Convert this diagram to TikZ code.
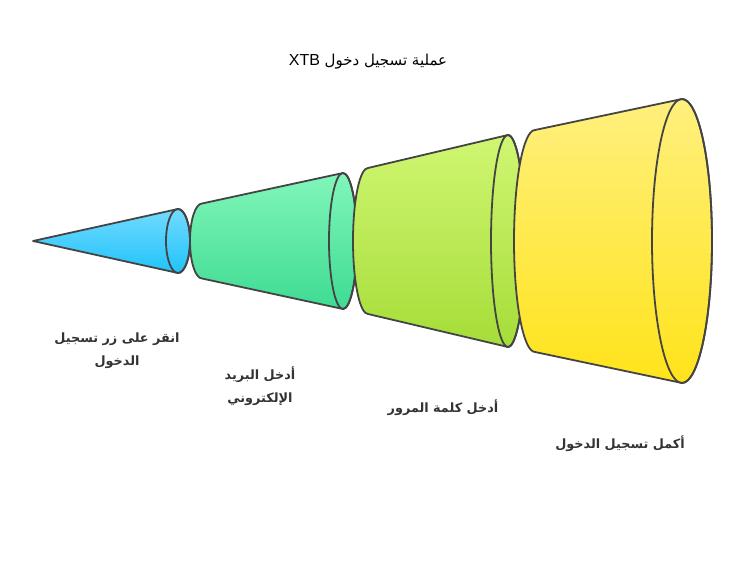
\documentclass[tikz,border=0pt]{standalone}
\usepackage{fontspec}
\setmainfont{Liberation Sans}
\newfontfamily\arabicfont[Script=Arabic]{DejaVu Sans}
\TeXXeTstate=1
\definecolor{edgegray}{HTML}{444444}
\definecolor{textgray}{HTML}{333333}
\definecolor{cyantop}{HTML}{72DAFF}
\definecolor{cyanbot}{HTML}{20C3FA}
\definecolor{greentop}{HTML}{82F6BA}
\definecolor{greenbot}{HTML}{3EDB92}
\definecolor{limetop}{HTML}{D0F672}
\definecolor{limebot}{HTML}{A5DD38}
\definecolor{yellowtop}{HTML}{FFF07E}
\definecolor{yellowbot}{HTML}{FFE31A}

\begin{document}
\begin{tikzpicture}[x=1pt, y=1pt,
    seg/.style={draw=edgegray, line width=1.8pt, line join=round},
    steplabel/.style={text=textgray, align=center, font=\arabicfont\bfseries\fontsize{12.8}{23}\selectfont}]
    \useasboundingbox (0,-337) rectangle (746,241);
    \node (title) at (368,179) {\arabicfont\fontsize{15}{18}\selectfont\beginR عملية تسجيل دخول \beginL{\normalfont\fontsize{16}{18}\selectfont XTB}\endL\endR};
    \shadedraw[seg, top color=cyantop, bottom color=cyanbot] (33,0) -- (178,32) arc[start angle=90, end angle=-90, x radius=12, y radius=32] -- cycle;
    \draw[seg] (178,0) ellipse[x radius=12, y radius=32];
    \shadedraw[seg, top color=greentop, bottom color=greenbot] (202,37.5) arc[start angle=90, end angle=270, x radius=12, y radius=37.5] -- (343,-68) arc[start angle=-90, end angle=90, x radius=14, y radius=68] -- cycle;
    \draw[seg] (343,0) ellipse[x radius=14, y radius=68];
    \shadedraw[seg, top color=limetop, bottom color=limebot] (368,73) arc[start angle=90, end angle=270, x radius=15, y radius=73] -- (508,-106) arc[start angle=-90, end angle=90, x radius=17, y radius=106] -- cycle;
    \draw[seg] (508,0) ellipse[x radius=17, y radius=106];
    \shadedraw[seg, top color=yellowtop, bottom color=yellowbot] (535,111) arc[start angle=90, end angle=270, x radius=21, y radius=111] -- (682,-142) arc[start angle=-90, end angle=90, x radius=30, y radius=142] -- cycle;
    \draw[seg] (682,0) ellipse[x radius=30, y radius=142];
    \node[steplabel] (clicklogin) at (117,-110) {\beginR انقر على زر تسجيل\endR\\\beginR الدخول\endR};
    \node[steplabel] (enteremail) at (260,-145) {\beginR أدخل البريد\endR\\\beginR الإلكتروني\endR};
    \node[steplabel] (enterpass) at (443,-167) {\beginR أدخل كلمة المرور\endR};
    \node[steplabel] (finishlogin) at (620,-203) {\beginR أكمل تسجيل الدخول\endR};
\end{tikzpicture}
\end{document}
